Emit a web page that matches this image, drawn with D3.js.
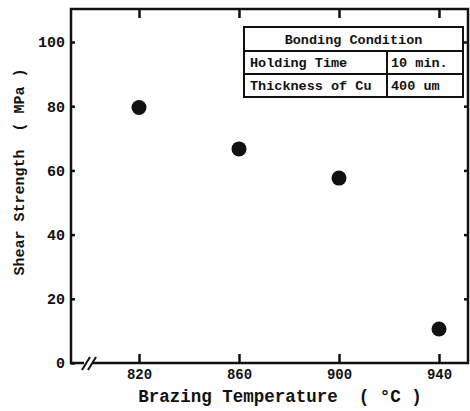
<!DOCTYPE html>
<html><head><meta charset="utf-8">
<script src="https://cdn.jsdelivr.net/npm/d3@7"></script>
<style>
body{margin:0;background:#fff;}
svg{display:block;}
text{font-family:"Liberation Mono","DejaVu Sans Mono",monospace;font-weight:bold;fill:#111;}
</style></head>
<body>
<script>
const temperatures = [820, 860, 900, 940];
const shearStrength = [79.6, 66.7, 57.6, 10.6];
const xTicks = [820, 860, 900, 940];
const yTicks = [0, 20, 40, 60, 80, 100];
const tableHeader = "Bonding Condition";
const tableRows = [["Holding Time", "10 min."], ["Thickness of Cu", "400 um"]];

const W = 470, H = 411;
const L = 71, R = 468, T = 9, B = 363;
const svg = d3.select("body").append("svg").attr("width", W).attr("height", H);

const x = d3.scaleLinear().domain([820, 940]).range([139, 439]);
const y = d3.scaleLinear().domain([0, 100]).range([B, 42]);

// frame
svg.append("path")
  .attr("d", `M${L},${T}H${R}V${B}H${L}Z`)
  .attr("fill", "none").attr("stroke", "#111").attr("stroke-width", 2.5);

// bottom axis
const gb = svg.append("g").attr("transform", `translate(0,${B})`)
  .call(d3.axisBottom(x).tickValues(xTicks).tickSize(-9).tickPadding(6).tickFormat(d3.format("d")));
gb.select(".domain").remove();
gb.selectAll("line").attr("stroke", "#111").attr("stroke-width", 2.5);
gb.selectAll("text").style("font-size", "14px").attr("fill", "#111");

// top axis ticks
const gt = svg.append("g").attr("transform", `translate(0,${T})`)
  .call(d3.axisTop(x).tickValues(xTicks).tickSize(-9).tickFormat(""));
gt.select(".domain").remove();
gt.selectAll("line").attr("stroke", "#111").attr("stroke-width", 2.5);

// left axis
const gl = svg.append("g").attr("transform", `translate(${L},0)`)
  .call(d3.axisLeft(y).tickValues(yTicks).tickSize(-4).tickPadding(6).tickFormat(d3.format("d")));
gl.select(".domain").remove();
gl.selectAll("line").attr("stroke", "#111").attr("stroke-width", 2.5);
gl.selectAll("text").style("font-size", "15px").attr("fill", "#111");

// right axis ticks
const gr = svg.append("g").attr("transform", `translate(${R},0)`)
  .call(d3.axisRight(y).tickValues(yTicks.filter(d => d > 0)).tickSize(-4).tickFormat(""));
gr.select(".domain").remove();
gr.selectAll("line").attr("stroke", "#111").attr("stroke-width", 2.5);

// axis break
svg.append("rect").attr("x", 84).attr("y", B - 3).attr("width", 9).attr("height", 6).attr("fill", "#fff");
[0, 6].forEach(o => {
  svg.append("line").attr("x1", 82 + o).attr("y1", B + 7).attr("x2", 90 + o).attr("y2", B - 6)
    .attr("stroke", "#111").attr("stroke-width", 2);
});

// points
svg.append("g").selectAll("circle").data(temperatures).join("circle")
  .attr("cx", d => x(d)).attr("cy", (d, i) => y(shearStrength[i])).attr("r", 7.5).attr("fill", "#111");

// axis titles
svg.append("text").attr("x", 280).attr("y", 402).attr("text-anchor", "middle")
  .style("font-size", "17.5px").attr("xml:space", "preserve").text("Brazing Temperature  ( °C )");
svg.append("text").attr("transform", "translate(24,172) rotate(-90)").attr("text-anchor", "middle")
  .style("font-size", "15px").attr("xml:space", "preserve").text("Shear Strength  ( MPa )");

// table
const tx0 = 244, tx1 = 463, txd = 387, ty = [27, 51, 74, 97];
const tg = svg.append("g").attr("stroke", "#111").attr("stroke-width", 2).attr("fill", "none");
tg.append("rect").attr("x", tx0).attr("y", ty[0]).attr("width", tx1 - tx0).attr("height", ty[3] - ty[0]).attr("fill", "#fff");
tg.append("line").attr("x1", tx0).attr("x2", tx1).attr("y1", ty[1]).attr("y2", ty[1]);
tg.append("line").attr("x1", tx0).attr("x2", tx1).attr("y1", ty[2]).attr("y2", ty[2]);
tg.append("line").attr("x1", txd).attr("x2", txd).attr("y1", ty[1]).attr("y2", ty[3]);
svg.append("text").attr("x", (tx0 + tx1) / 2).attr("y", ty[0] + 17).attr("text-anchor", "middle")
  .style("font-size", "13.5px").text(tableHeader);
tableRows.forEach((r, i) => {
  svg.append("text").attr("x", tx0 + 6).attr("y", ty[i + 1] + 16).style("font-size", "13.5px").text(r[0]);
  svg.append("text").attr("x", txd + 4).attr("y", ty[i + 1] + 16).style("font-size", "13.5px").text(r[1]);
});
</script>
</body></html>
